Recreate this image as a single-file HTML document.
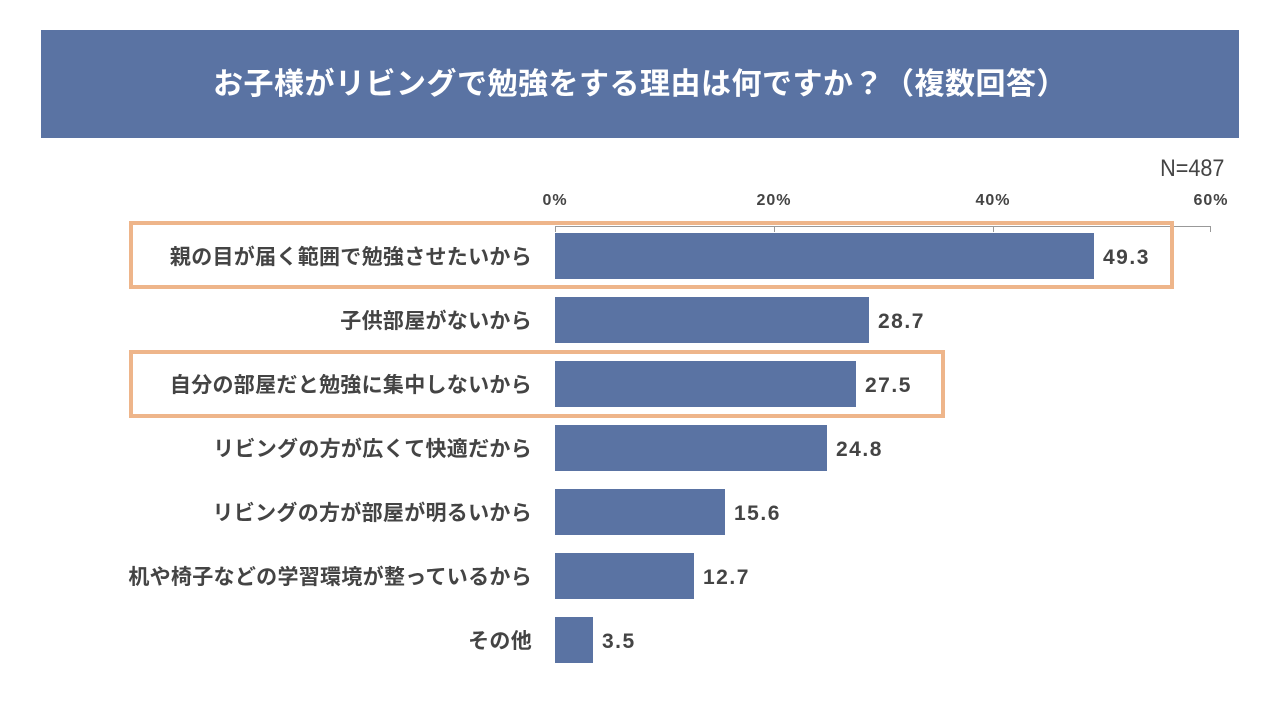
<!DOCTYPE html>
<html><head><meta charset="utf-8"><style>
body{margin:0;width:1280px;height:720px;background:#fff;position:relative;overflow:hidden;font-family:"Liberation Sans","Noto Sans CJK JP",sans-serif;}
.hdr{position:absolute;left:41px;top:30px;width:1198px;height:108px;background:#5a73a3;color:#fff;font-weight:bold;font-size:30px;text-align:center;line-height:110px;letter-spacing:0.5px;}
.n{position:absolute;right:56px;top:155px;font-size:24px;color:#444;transform:scaleX(0.9);transform-origin:right;}
.tk{position:absolute;top:192px;font-size:16px;font-weight:bold;color:#444;width:60px;text-align:center;letter-spacing:1px;}
.axis{position:absolute;left:555px;top:226px;width:656px;height:1px;background:#999;}
.tick{position:absolute;top:226px;width:1px;height:6px;background:#999;}
.bar{position:absolute;left:555px;height:46px;background:#5a73a3;}
.lab{position:absolute;right:748px;font-size:21px;font-weight:bold;color:#444;line-height:46px;white-space:nowrap;letter-spacing:0.3px;margin-top:2px;}
.val{position:absolute;font-size:21px;font-weight:bold;color:#444;line-height:46px;letter-spacing:1.5px;}
.box{position:absolute;border:4px solid #eeb58a;box-sizing:border-box;}
</style></head><body>
<div class="hdr">お子様がリビングで勉強をする理由は何ですか？（複数回答）</div>
<div class="n">N=487</div>
<div class="tk" style="left:525px">0%</div>
<div class="tk" style="left:744px">20%</div>
<div class="tk" style="left:963px">40%</div>
<div class="tk" style="left:1181px">60%</div>
<div class="axis"></div>
<div class="tick" style="left:555px"></div><div class="tick" style="left:774px"></div><div class="tick" style="left:993px"></div><div class="tick" style="left:1210px"></div>
<div class="box" style="left:129px;top:221px;width:1045px;height:68px"></div>
<div class="box" style="left:129px;top:350px;width:816px;height:68px"></div>

<div class="lab" style="top:233px">親の目が届く範囲で勉強させたいから</div>
<div class="bar" style="top:233px;width:539px"></div><div class="val" style="top:235px;left:1103px">49.3</div>

<div class="lab" style="top:297px">子供部屋がないから</div>
<div class="bar" style="top:297px;width:314px"></div><div class="val" style="top:299px;left:878px">28.7</div>

<div class="lab" style="top:361px">自分の部屋だと勉強に集中しないから</div>
<div class="bar" style="top:361px;width:301px"></div><div class="val" style="top:363px;left:865px">27.5</div>

<div class="lab" style="top:425px">リビングの方が広くて快適だから</div>
<div class="bar" style="top:425px;width:272px"></div><div class="val" style="top:427px;left:836px">24.8</div>

<div class="lab" style="top:489px">リビングの方が部屋が明るいから</div>
<div class="bar" style="top:489px;width:170px"></div><div class="val" style="top:491px;left:734px">15.6</div>

<div class="lab" style="top:553px">机や椅子などの学習環境が整っているから</div>
<div class="bar" style="top:553px;width:139px"></div><div class="val" style="top:555px;left:703px">12.7</div>

<div class="lab" style="top:617px">その他</div>
<div class="bar" style="top:617px;width:38px"></div><div class="val" style="top:619px;left:602px">3.5</div>
</body></html>
